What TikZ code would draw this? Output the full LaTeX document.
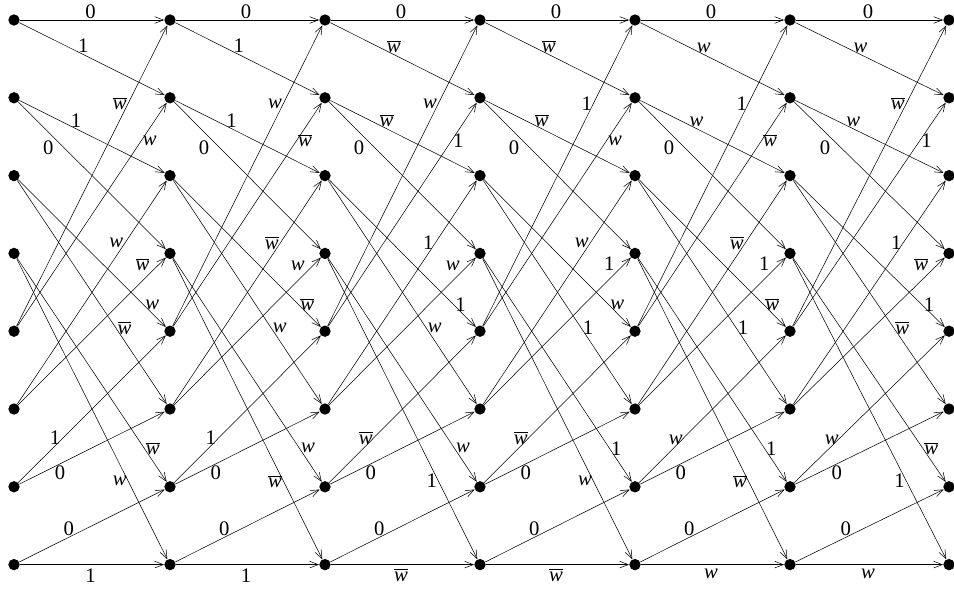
\documentclass[tikz,border=0pt]{standalone}
\usepackage{fontspec}
\setmainfont{Liberation Serif}
\usepackage{tikz}
\usetikzlibrary{arrows.meta}
\tikzset{
    dotnode/.style={circle, fill=black, inner sep=0pt, minimum size=8.5pt},
    myarrow/.style={-{Straight Barb[length=6.5pt,width=5pt]}, line width=0.4pt},
    lab/.style={font=\fontsize{15.5}{17}\selectfont, inner sep=1pt}
}
\newcommand{\wt}{\textit{w}}
\newcommand{\wb}{$\overline{\mbox{\textit{w}}}$}

\begin{document}
\begin{tikzpicture}[x=0.75pt, y=-0.75pt]
    \useasboundingbox (0,0) rectangle (954,593);
    % states, one column per stage
    \foreach \c/\x in {0/14,1/170,2/325,3/480,4/635,5/790,6/949}
        \foreach \r in {0,...,7}
            \node (n\c-\r) [dotnode] at (\x,{20+77.8*\r}) {};
    % branches of each stage, labels in order A..P
    \foreach \c/\lA/\lB/\lC/\lD/\lE/\lF/\lG/\lH/\lI/\lJ/\lK/\lL/\lM/\lN/\lO/\lP in {
        0/0/1/1/0/\wt/\wb/\wb/\wt/\wb/\wt/\wt/\wb/1/0/0/1,
        1/0/1/1/0/\wb/\wt/\wt/\wb/\wt/\wb/\wb/\wt/1/0/0/1,
        2/0/\wb/\wb/0/1/\wt/\wt/1/\wt/1/1/\wt/\wb/0/0/\wb,
        3/0/\wb/\wb/0/\wt/1/1/\wt/1/\wt/\wt/1/\wb/0/0/\wb,
        4/0/\wt/\wt/0/\wb/1/1/\wb/1/\wb/\wb/1/\wt/0/0/\wt,
        5/0/\wt/\wt/0/1/\wb/\wb/1/\wb/1/1/\wb/\wt/0/0/\wt} {
        \pgfmathtruncatemacro{\d}{\c+1}
        \draw [myarrow] (n\c-0) -- node[lab, pos=.49, above] {\lA} (n\d-0);
        \draw [myarrow] (n\c-0) -- node[lab, pos=.44, above] {\lB} (n\d-1);
        \draw [myarrow] (n\c-1) -- node[lab, pos=.39, above] {\lC} (n\d-2);
        \draw [myarrow] (n\c-1) -- node[lab, pos=.25, below left] {\lD} (n\d-3);
        \draw [myarrow] (n\c-2) -- node[lab, pos=.85, right] {\lE} (n\d-4);
        \draw [myarrow] (n\c-2) -- node[lab, pos=.66, right] {\lF} (n\d-5);
        \draw [myarrow] (n\c-3) -- node[lab, pos=.85, right] {\lG} (n\d-6);
        \draw [myarrow] (n\c-3) -- node[lab, pos=.74, left] {\lH} (n\d-7);
        \draw [myarrow] (n\c-4) -- node[lab, pos=.74, left] {\lI} (n\d-0);
        \draw [myarrow] (n\c-4) -- node[lab, pos=.83, right] {\lJ} (n\d-1);
        \draw [myarrow] (n\c-5) -- node[lab, pos=.72, left] {\lK} (n\d-2);
        \draw [myarrow] (n\c-5) -- node[lab, pos=.9, above left] {\lL} (n\d-3);
        \draw [myarrow] (n\c-6) -- node[lab, pos=.25, above] {\lM} (n\d-4);
        \draw [myarrow] (n\c-6) -- node[lab, pos=.28, below] {\lN} (n\d-5);
        \draw [myarrow] (n\c-7) -- node[lab, pos=.34, above] {\lO} (n\d-6);
        \draw [myarrow] (n\c-7) -- node[lab, pos=.49, below=2pt] {\lP} (n\d-7);
    }
\end{tikzpicture}
\end{document}
